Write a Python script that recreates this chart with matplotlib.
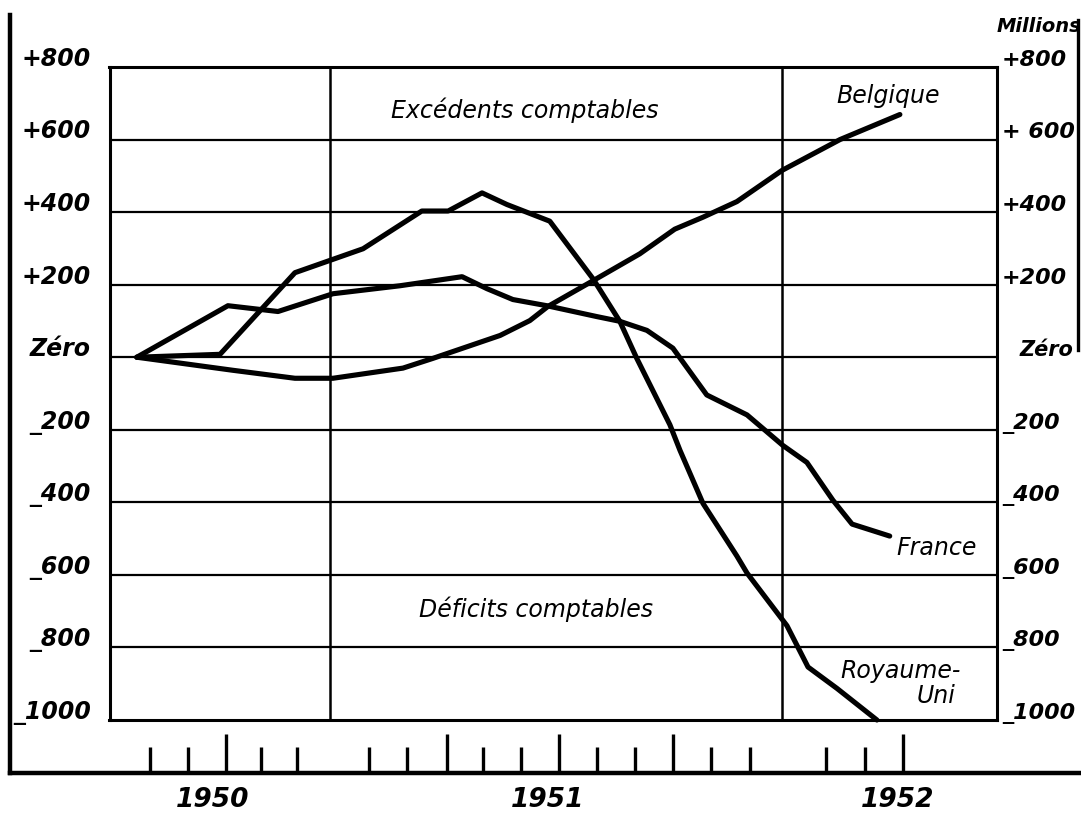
import matplotlib
matplotlib.use("Agg")
import matplotlib.pyplot as plt
from matplotlib.lines import Line2D

# ---------------- data (x in months from first tick, y in millions) -------------
uk_x = [-0.35, 1.86, 3.85, 5.66, 7.22, 7.92, 8.82, 9.48, 10.62, 11.77, 12.48, 12.93,
        13.81, 14.08, 14.69, 15.59, 15.86, 16.92, 17.48, 18.25, 19.31]
uk_y = [0, 8, 233, 299, 403, 403, 453, 421, 375, 216, 99, -3,
        -186, -257, -403, -548, -595, -740, -854, -913, -1000]

fr_x = [-0.35, 2.07, 3.40, 4.86, 6.64, 8.29, 8.95, 9.64, 10.54, 11.87, 12.48, 13.20,
        13.89, 14.79, 15.86, 16.81, 17.45, 18.14, 18.65, 19.65]
fr_y = [0, 142, 126, 175, 197, 222, 189, 159, 142, 112, 99, 74,
        25, -104, -159, -243, -290, -394, -460, -493]

be_x = [-0.35, 2.20, 3.85, 4.86, 6.72, 7.52, 9.30, 10.09, 10.57, 11.77, 13.01, 13.94,
        14.69, 15.59, 16.79, 18.33, 19.92]
be_y = [0, -36, -58, -58, -30, -3, 60, 101, 140, 211, 285, 353,
        386, 429, 515, 600, 669]

y_ticks = [800, 600, 400, 200, 0, -200, -400, -600, -800, -1000]
y_left_labels = ["+800", "+600", "+400", "+200", "Zéro", "_200", "_400", "_600", "_800", "_1000"]
y_right_labels = ["+800", "+ 600", "+400", "+200", "Zéro", "_200", "_400", "_600", "_800", "_1000"]

tick_x = [0, 1.01, 2.02, 2.95, 3.90, 5.82, 6.83, 7.89, 8.85, 9.85, 10.86, 11.87,
          12.88, 13.89, 14.90, 15.94, 17.96, 18.99, 20.0]
tick_tall = [False, False, True, False, False, False, False, True, False, False, True, False,
             False, True, False, False, False, False, True]
year_x = [1.65, 10.57, 19.87]
year_labels = ["1950", "1951", "1952"]
vgrid_x = [4.78, 16.79]

# ---------------- figure ------------------------------------------------------
W, H = 1081, 816
fig = plt.figure(figsize=(W / 100, H / 100), dpi=100)
fig.patch.set_facecolor("white")

def fx(px):
    return px / W

def fy(py):
    return 1 - py / H

ax = fig.add_axes([fx(109.5), fy(720), fx(997) - fx(109.5), fy(67) - fy(720)])
ax.set_xlim(-1.076, 22.50)
ax.set_ylim(-1000, 800)
ax.set_xticks([])
ax.set_yticks([])
for s in ax.spines.values():
    s.set_linewidth(2.2)
    s.set_color("black")

for v in y_ticks[1:-1]:
    ax.axhline(v, color="black", lw=1.6, zorder=1)
for xv in vgrid_x:
    ax.axvline(xv, color="black", lw=1.8, zorder=1)

lw = 3.7
for xs, ys in [(uk_x, uk_y), (fr_x, fr_y), (be_x, be_y)]:
    ax.plot(xs, ys, color="black", lw=lw, solid_joinstyle="round",
            solid_capstyle="round", zorder=3, clip_on=False)

# y labels
lab_font = dict(fontstyle="italic", fontweight="bold", color="black")
ytr = ax.get_yaxis_transform()
for v, l in zip(y_ticks, y_left_labels):
    ax.text(-0.021, v + 3, l, transform=ytr, ha="right", va="baseline", fontsize=17, **lab_font)
for v, l in zip(y_ticks, y_right_labels):
    if l == "Zéro":
        ax.text(1.025, v + 3, l, transform=ytr, ha="left", va="baseline", fontsize=15, **lab_font)
    else:
        ax.text(1.0055, v + 3, l, transform=ytr, ha="left", va="baseline", fontsize=16, **lab_font)
ax.text(1.0, 1.062, "Millions", transform=ax.transAxes, ha="left", va="center",
        fontsize=14, fontstyle="italic", fontweight="bold")

# x ticks below the box
xtr = ax.get_xaxis_transform()
bot = -(773 - 720) / 653
for xv, tall in zip(tick_x, tick_tall):
    top = -(734 - 720) / 653 if tall else -(747 - 720) / 653
    ax.plot([xv, xv], [bot, top], transform=xtr, color="black", lw=2.4,
            clip_on=False, solid_capstyle="butt")
for xv, l in zip(year_x, year_labels):
    ax.text(xv, -(800 - 720) / 653, l, transform=xtr, ha="center", va="center",
            fontsize=19, fontstyle="italic", fontweight="bold")

# annotations
txt_font = dict(fontsize=17, fontstyle="italic", color="black")
ax.text((525 - 150) / 37.65, 680, "Excédents comptables", ha="center", va="center", **txt_font)
ax.text((536 - 150) / 37.65, -695, "Déficits comptables", ha="center", va="center", **txt_font)
ax.text((888 - 150) / 37.65, 720, "Belgique", ha="center", va="center", **txt_font)
ax.text((937 - 150) / 37.65, -525, "France", ha="center", va="center", **txt_font)
ax.text((901 - 150) / 37.65, -865, "Royaume-", ha="center", va="center", **txt_font)
ax.text((936 - 150) / 37.65, -935, "Uni", ha="center", va="center", **txt_font)

# outer frame lines
fig.add_artist(Line2D([fx(10), fx(10)], [fy(15), fy(773)], color="black", lw=3.2,
                      transform=fig.transFigure))
fig.add_artist(Line2D([fx(10), fx(1081)], [fy(773), fy(773)], color="black", lw=3.2,
                      transform=fig.transFigure))
fig.add_artist(Line2D([fx(1078), fx(1078)], [fy(20), fy(350)], color="black", lw=2.4,
                      transform=fig.transFigure))

fig.savefig("out.png", dpi=100, facecolor="white")
